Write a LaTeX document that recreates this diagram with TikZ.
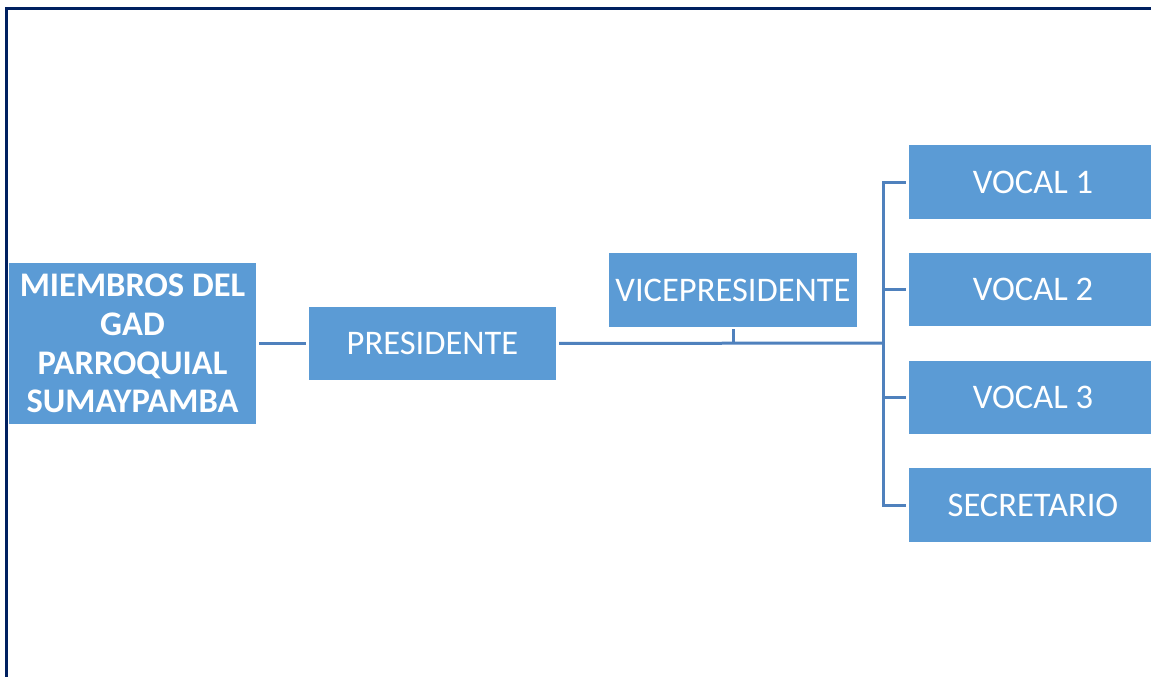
\documentclass[tikz,border=0pt]{standalone}
\usepackage{fontspec}
\setmainfont{Carlito}
\definecolor{boxblue}{HTML}{5B9BD5}
\definecolor{lineblue}{HTML}{4F81BD}
\definecolor{navy}{HTML}{002060}
\begin{document}
\begin{tikzpicture}[x=1pt,y=-1pt,
  orgbox/.style={fill=boxblue, draw=none, inner sep=0pt, text=white, align=center,
    font=\fontsize{34.5}{39}\selectfont},
  link/.style={draw=lineblue, line width=3pt}]
\useasboundingbox (0,0) rectangle (1151,677);
\clip (0,0) rectangle (1151,677);
\fill[white] (0,0) rectangle (1151,677);
\draw[navy, line width=3.5pt] (6.5,677) -- (6.5,8.5) -- (1151,8.5);
\node[orgbox, minimum width=247pt, minimum height=161pt, font=\fontsize{34.5}{38.7}\selectfont\bfseries] (miembros) at (132.5,343.5) {MIEMBROS DEL\\GAD\\PARROQUIAL\\SUMAYPAMBA};
\node[orgbox, minimum width=247pt, minimum height=73pt] (presidente) at (432.5,343.5) {PRESIDENTE};
\node[orgbox, minimum width=248pt, minimum height=74pt] (vice) at (733,290) {VICEPRESIDENTE};
\node[orgbox, minimum width=248pt, minimum height=74pt] (vocal1) at (1033,182) {VOCAL 1};
\node[orgbox, minimum width=248pt, minimum height=73pt] (vocal2) at (1033,289.5) {VOCAL 2};
\node[orgbox, minimum width=248pt, minimum height=73pt] (vocal3) at (1033,397.5) {VOCAL 3};
\node[orgbox, minimum width=248pt, minimum height=74pt] (secretario) at (1033,505) {SECRETARIO};
\coordinate (bx) at (883,343);
\draw[link, shorten <=3pt, shorten >=3pt] (miembros.east) -- (presidente.west);
\draw[link, shorten <=3pt] (presidente.east) -- (bx);
\draw[link, shorten <=2pt] (vice.south) -- (vice.south |- bx);
\draw[link, line cap=rect] (bx |- vocal1.west) -- (bx |- secretario.west);
\foreach \v in {vocal1,vocal2,vocal3,secretario}
  \draw[link, shorten >=3pt] (bx |- \v.west) -- (\v.west);
\end{tikzpicture}
\end{document}
